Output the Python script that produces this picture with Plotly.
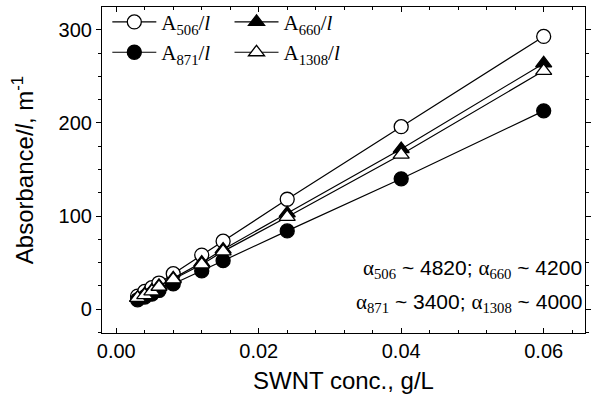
import plotly.graph_objects as go

conc = [0.003, 0.004, 0.005, 0.006, 0.008, 0.012, 0.015, 0.024, 0.04, 0.06]
a506 = [14, 19, 23, 28, 38, 58, 73, 118, 196, 293]
a660 = [12, 16, 20, 25, 33, 50, 64, 103, 172, 264]
a871 = [10, 13, 16, 20, 27, 41, 52, 84, 140, 213]
a1308 = [12, 15, 19, 24, 32, 48, 62, 99, 166, 256]

x_ticks = [0.00, 0.02, 0.04, 0.06]
x_ticklabels = ["0.00", "0.02", "0.04", "0.06"]
y_ticks = [0, 100, 200, 300]

SERIF = "Liberation Serif, Times New Roman, serif"
SANS = "Liberation Sans, Arial, sans-serif"

fig = go.Figure()

series = [
    ("A<sub>506</sub>/<i>l</i>", a506, "circle", "white", "legend"),
    ("A<sub>660</sub>/<i>l</i>", a660, "triangle-up", "black", "legend2"),
    ("A<sub>871</sub>/<i>l</i>", a871, "circle", "black", "legend"),
    ("A<sub>1308</sub>/<i>l</i>", a1308, "triangle-up", "white", "legend2"),
]

for name, vals, sym, fill, lg in series:
    fig.add_trace(go.Scatter(
        x=conc, y=vals, name=name, mode="lines+markers",
        line=dict(color="black", width=1.2),
        marker=dict(symbol=sym, size=14, color=fill,
                    line=dict(color="black", width=1.3)),
        legend=lg,
    ))

legend_common = dict(
    bgcolor="rgba(0,0,0,0)", borderwidth=0,
    font=dict(family=SERIF, size=21, color="black"),
    xanchor="left", yanchor="top", itemwidth=44,
    tracegroupgap=0,
)
fig.update_layout(
    legend=dict(x=0.011, y=1.016, **legend_common),
    legend2=dict(x=0.264, y=1.016, **legend_common),
)

annot_font = dict(family=SANS, size=21, color="black")
def alpha(sub):
    return f"<span style=\"font-family:'Liberation Serif';fill:black\">α<sub>{sub}</sub></span>"

fig.add_annotation(x=0.998, y=0.196, xref="paper", yref="paper", xanchor="right", yanchor="middle",
                   text=f"{alpha('506')} ~ 4820; {alpha('660')} ~ 4200", showarrow=False, font=annot_font)
fig.add_annotation(x=0.998, y=0.092, xref="paper", yref="paper", xanchor="right", yanchor="middle",
                   text=f"{alpha('871')} ~ 3400; {alpha('1308')} ~ 4000", showarrow=False, font=annot_font)

fig.update_xaxes(
    range=[-0.002, 0.0658], tickvals=x_ticks, ticktext=x_ticklabels,
    ticks="inside", ticklen=5, tickcolor="black", tickwidth=1,
    minor=dict(dtick=0.004, tick0=0, ticks="inside", ticklen=3, tickcolor="black"),
    showline=True, linecolor="black", linewidth=1.2, mirror="ticks",
    showgrid=False, zeroline=False,
    title=dict(text="SWNT conc., g/L", font=dict(family=SANS, size=24, color="black"), standoff=11),
    tickfont=dict(family=SANS, size=20, color="black"),
)
fig.update_yaxes(
    range=[-25.7, 324.6], tickvals=y_ticks,
    ticks="outside", ticklen=5, tickcolor="black", tickwidth=1,
    minor=dict(dtick=25, tick0=0, ticks="outside", ticklen=3, tickcolor="black"),
    showline=True, linecolor="black", linewidth=1.2, mirror="ticks",
    showgrid=False, zeroline=False,
    title=dict(text="Absorbance/<i>l</i>, m<sup>-1</sup>", font=dict(family=SANS, size=24, color="black"), standoff=18),
    tickfont=dict(family=SANS, size=20, color="black"),
)

fig.update_layout(
    width=593, height=399,
    margin=dict(l=102, r=2, t=6, b=66),
    plot_bgcolor="white", paper_bgcolor="white",
    showlegend=True,
)

fig.write_html("out.html")
